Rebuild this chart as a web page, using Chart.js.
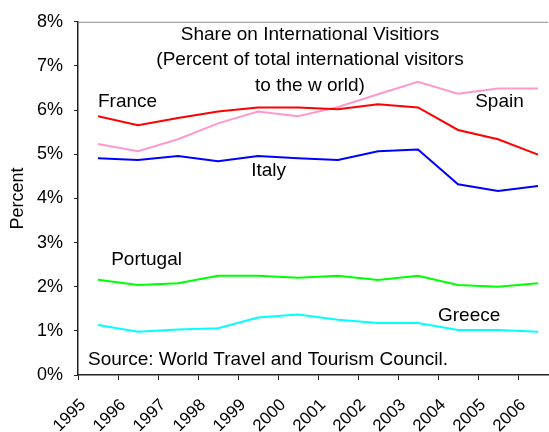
<!DOCTYPE html>
<html>
<head>
<meta charset="utf-8">
<script src="https://cdn.jsdelivr.net/npm/chart.js@4/dist/chart.umd.min.js"></script>
<style>
  html, body { margin: 0; padding: 0; background: #fff; }
  #wrap { width: 549px; height: 432px; }
</style>
</head>
<body>
<div id="wrap"><canvas id="visitorsChart" width="549" height="432"></canvas></div>
<script>
// share of world international arrivals, percent
const years = [1995, 1996, 1997, 1998, 1999, 2000, 2001, 2002, 2003, 2004, 2005, 2006];
const france   = [5.86, 5.66, 5.82, 5.97, 6.06, 6.06, 6.02, 6.13, 6.06, 5.55, 5.34, 4.99];
const spain    = [5.23, 5.07, 5.34, 5.70, 5.97, 5.86, 6.07, 6.36, 6.64, 6.37, 6.49, 6.49];
const italy    = [4.91, 4.87, 4.96, 4.84, 4.96, 4.91, 4.87, 5.07, 5.11, 4.32, 4.17, 4.28];
const portugal = [2.16, 2.04, 2.08, 2.25, 2.25, 2.20, 2.25, 2.15, 2.25, 2.04, 2.00, 2.08];
const greece   = [1.13, 0.98, 1.03, 1.06, 1.30, 1.37, 1.25, 1.18, 1.18, 1.02, 1.02, 0.98];
const yTicks = [0, 1, 2, 3, 4, 5, 6, 7, 8];

const FONT = "'Liberation Sans', Arial, sans-serif";

// values sit in the middle of each year, between the tick marks
const points = vals => vals.map((v, i) => ({ x: years[i] + 0.5, y: v }));

function series(label, vals, color) {
    return {
        label: label,
        data: points(vals),
        borderColor: color,
        backgroundColor: color,
        borderWidth: 2,
        pointRadius: 0,
        tension: 0
    };
}

// text written inside the plot, placed in data units
const notes = [
    { text: "Share on International Visitiors", x: 2000.8, y: 7.70, align: "center" },
    { text: "(Percent of total international visitors", x: 2000.8, y: 7.13, align: "center" },
    { text: "to the w orld)", x: 2000.8, y: 6.55, align: "center" },
    { text: "France", x: 1995.5, y: 6.18, align: "left" },
    { text: "Spain", x: 2004.93, y: 6.18, align: "left" },
    { text: "Italy", x: 1999.33, y: 4.62, align: "left" },
    { text: "Portugal", x: 1995.83, y: 2.60, align: "left" },
    { text: "Greece", x: 2004.0, y: 1.34, align: "left" },
    { text: "Source: World Travel and Tourism Council.", x: 1995.25, y: 0.35, align: "left" }
];

const notesPlugin = {
    id: "notes",
    afterDraw(chart) {
        const ctx = chart.ctx;
        const area = chart.chartArea;
        const xs = chart.scales.x, ys = chart.scales.y;
        ctx.save();
        // thin frame line along the top of the plot
        ctx.strokeStyle = "#8c8c8c";
        ctx.lineWidth = 1;
        ctx.beginPath();
        ctx.moveTo(area.left, area.top + 0.5);
        ctx.lineTo(area.right, area.top + 0.5);
        ctx.stroke();

        ctx.fillStyle = "#000";
        ctx.font = "19px " + FONT;
        ctx.textBaseline = "middle";
        notes.forEach(n => {
            ctx.textAlign = n.align;
            ctx.fillText(n.text, xs.getPixelForValue(n.x), ys.getPixelForValue(n.y));
        });
        ctx.restore();
    }
};

new Chart(document.getElementById("visitorsChart"), {
    type: "line",
    data: {
        datasets: [
            series("France", france, "#ff0000"),
            series("Spain", spain, "#ff99cc"),
            series("Italy", italy, "#0000ff"),
            series("Portugal", portugal, "#00ff00"),
            series("Greece", greece, "#00ffff")
        ]
    },
    options: {
        responsive: false,
        animation: false,
        layout: { padding: { top: 18, right: 1, left: 0, bottom: 0 } },
        plugins: {
            legend: { display: false },
            tooltip: { enabled: false }
        },
        scales: {
            x: {
                type: "linear",
                min: years[0],
                max: years[years.length - 1] + 0.75,
                afterFit: s => { s.height = 57; s.paddingRight = 0; },
                afterBuildTicks: s => { s.ticks = years.map(v => ({ value: v })); },
                ticks: {
                    stepSize: 1,
                    includeBounds: false,
                    autoSkip: false,
                    minRotation: 45,
                    maxRotation: 45,
                    padding: 15,
                    labelOffset: 5,
                    color: "#000",
                    font: { family: FONT, size: 17 },
                    callback: v => String(v)
                },
                grid: { drawOnChartArea: false, drawTicks: true, tickLength: 5, color: "#222" },
                border: { display: true, color: "#222", width: 1.5 }
            },
            y: {
                min: 0,
                max: 8,
                afterFit: s => { s.width = 78; },
                afterBuildTicks: s => { s.ticks = yTicks.map(v => ({ value: v })); },
                ticks: {
                    stepSize: 1,
                    padding: 11,
                    color: "#000",
                    font: { family: FONT, size: 18 },
                    callback: v => v + "%"
                },
                title: {
                    display: true,
                    text: "Percent",
                    color: "#000",
                    font: { family: FONT, size: 18 },
                    padding: { top: 7, bottom: 0 }
                },
                grid: { drawOnChartArea: false, drawTicks: true, tickLength: 4, color: "#222" },
                border: { display: true, color: "#222", width: 1.5 }
            }
        }
    },
    plugins: [notesPlugin]
});
</script>
</body>
</html>
